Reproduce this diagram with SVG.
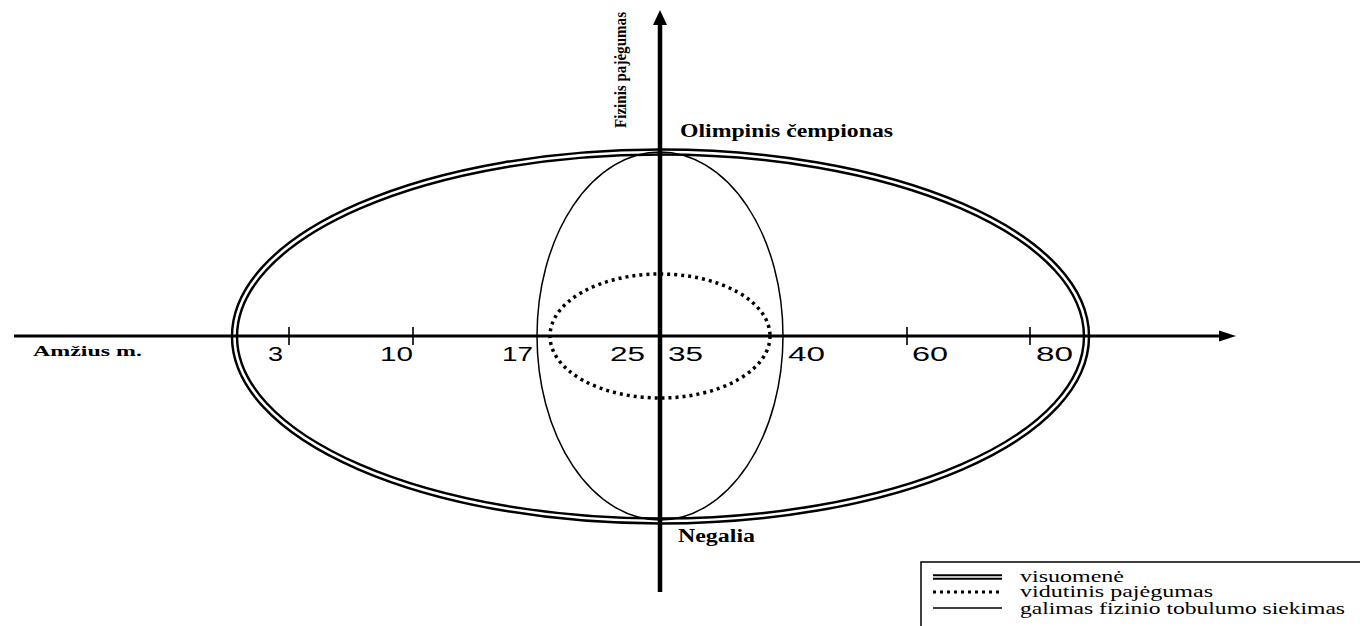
<svg xmlns="http://www.w3.org/2000/svg" width="1360" height="626" viewBox="0 0 1360 626">
<style>
.lbl{font-family:"Liberation Serif","Times New Roman",serif;font-weight:bold;fill:#000}
.num{font-family:"Liberation Sans",Arial,sans-serif;font-size:20px;fill:#000}
.leg{font-family:"Liberation Serif","Times New Roman",serif;font-size:16px;fill:#000}
.dbl{fill:none;stroke:#000;stroke-width:7.5}
.dblw{fill:none;stroke:#fff;stroke-width:2.6}
.thin{fill:none;stroke:#000;stroke-width:1.5}
.dot{fill:none;stroke:#000;stroke-width:3.5;stroke-dasharray:3 4}
.tick{stroke:#000;stroke-width:1.6}
</style>
<rect width="1360" height="626" fill="#fff"/>
<g id="ellipses">
<g id="visuomene">
<ellipse class="dbl" cx="660.5" cy="336.5" rx="426" ry="184.5"/>
<ellipse class="dblw" cx="660.5" cy="336.5" rx="426" ry="184.5"/>
</g>
<ellipse id="siekimas" class="thin" cx="660" cy="336" rx="123" ry="184"/>
<ellipse id="vidutinis" class="dot" cx="660" cy="336" rx="110" ry="62"/>
</g>
<g id="connectors">
<line x1="14" y1="336" x2="1222" y2="336" stroke="#000" stroke-width="3"/>
<polygon points="1236,336 1219,330.5 1219,341.5" fill="#000"/>
<line x1="660" y1="22" x2="660" y2="592" stroke="#000" stroke-width="4.5"/>
<polygon points="660,10 653,25 667,25" fill="#000"/>
<line class="tick" x1="289" y1="327" x2="289" y2="345"/>
<line class="tick" x1="413" y1="327" x2="413" y2="345"/>
<line class="tick" x1="907" y1="327" x2="907" y2="345"/>
<line class="tick" x1="1030" y1="327" x2="1030" y2="345"/>
</g>
<g id="axis-labels">
<text class="lbl" x="33" y="356" font-size="14" textLength="109" lengthAdjust="spacingAndGlyphs">Amžius m.</text>
<text class="lbl" font-size="17" transform="translate(626,128) rotate(-90)" textLength="116" lengthAdjust="spacingAndGlyphs">Fizinis pajėgumas</text>
<text class="lbl" x="680" y="137" font-size="18" textLength="213" lengthAdjust="spacingAndGlyphs">Olimpinis čempionas</text>
<text class="lbl" x="678" y="542" font-size="18" textLength="77" lengthAdjust="spacingAndGlyphs">Negalia</text>
</g>
<g id="ages">
<text class="num" x="268" y="361" textLength="15" lengthAdjust="spacingAndGlyphs">3</text>
<text class="num" x="380" y="361" textLength="33" lengthAdjust="spacingAndGlyphs">10</text>
<text class="num" x="502" y="361" textLength="31" lengthAdjust="spacingAndGlyphs">17</text>
<text class="num" x="610" y="361" textLength="35" lengthAdjust="spacingAndGlyphs">25</text>
<text class="num" x="668" y="361" textLength="35" lengthAdjust="spacingAndGlyphs">35</text>
<text class="num" x="788" y="361" textLength="37" lengthAdjust="spacingAndGlyphs">40</text>
<text class="num" x="912" y="361" textLength="36" lengthAdjust="spacingAndGlyphs">60</text>
<text class="num" x="1036" y="361" textLength="37" lengthAdjust="spacingAndGlyphs">80</text>
</g>
<g id="legend">
<polyline points="921,626 921,562 1360,562" fill="none" stroke="#000" stroke-width="1.5"/>
<line x1="933" y1="577" x2="1002" y2="577" stroke="#000" stroke-width="5.5"/>
<line x1="933" y1="577" x2="1002" y2="577" stroke="#fff" stroke-width="1.5"/>
<line x1="933" y1="592" x2="1002" y2="592" stroke="#000" stroke-width="3" stroke-dasharray="3 4"/>
<line x1="933" y1="608" x2="1002" y2="608" stroke="#000" stroke-width="1.5"/>
<text class="leg" x="1020" y="582" textLength="104" lengthAdjust="spacingAndGlyphs">visuomenė</text>
<text class="leg" x="1020" y="597" textLength="193" lengthAdjust="spacingAndGlyphs">vidutinis pajėgumas</text>
<text class="leg" x="1020" y="614" textLength="325" lengthAdjust="spacingAndGlyphs">galimas fizinio tobulumo siekimas</text>
</g>
</svg>
